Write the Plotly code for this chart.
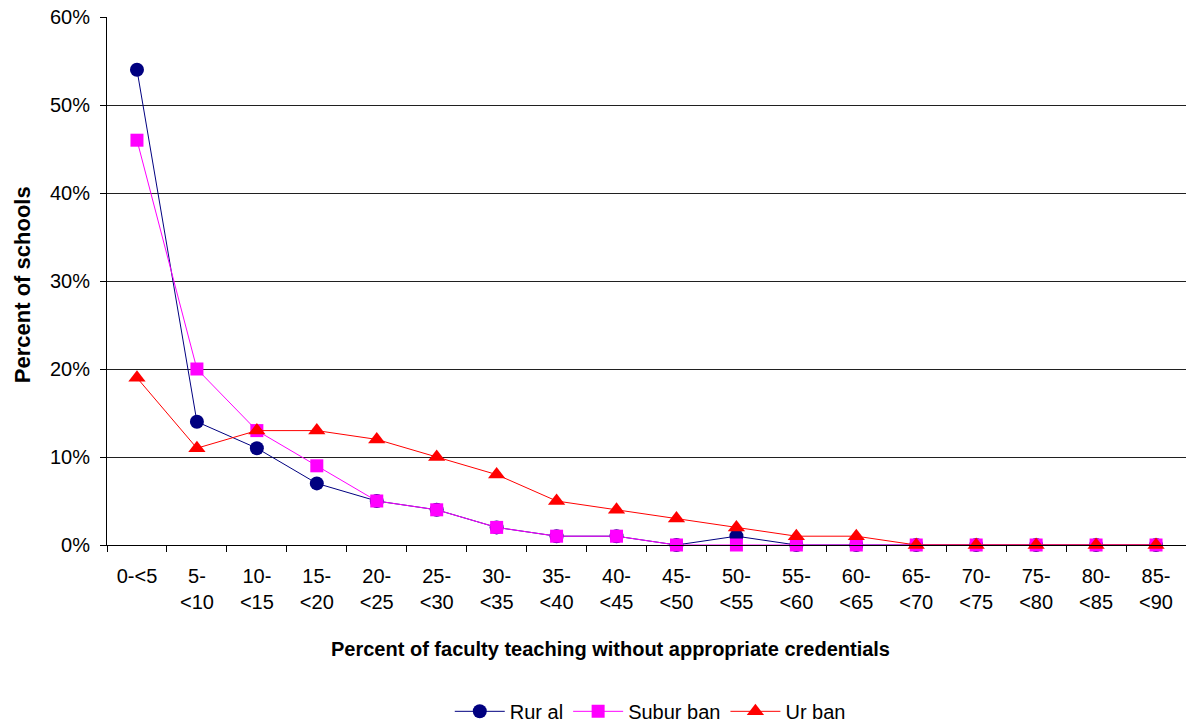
import plotly.graph_objects as go

categories = ["0-<5", "5-<br><10", "10-<br><15", "15-<br><20", "20-<br><25", "25-<br><30",
              "30-<br><35", "35-<br><40", "40-<br><45", "45-<br><50", "50-<br><55", "55-<br><60",
              "60-<br><65", "65-<br><70", "70-<br><75", "75-<br><80", "80-<br><85", "85-<br><90"]
rural = [54, 14, 11, 7, 5, 4, 2, 1, 1, 0, 1, 0, 0, 0, 0, 0, 0, 0]
suburban = [46, 20, 13, 9, 5, 4, 2, 1, 1, 0, 0, 0, 0, 0, 0, 0, 0, 0]
urban = [19, 11, 13, 13, 12, 10, 8, 5, 4, 3, 2, 1, 1, 0, 0, 0, 0, 0]
y_ticks = [0, 10, 20, 30, 40, 50, 60]
y_tick_labels = ["0%", "10%", "20%", "30%", "40%", "50%", "60%"]

FONT = "Liberation Sans, Arial, sans-serif"

fig = go.Figure()
fig.add_trace(go.Scatter(x=categories, y=rural, name="Rur al", mode="lines+markers",
                         line=dict(color="#000080", width=1),
                         marker=dict(symbol="circle", size=14, color="#000080"),
                         cliponaxis=False))
fig.add_trace(go.Scatter(x=categories, y=suburban, name="Subur ban", mode="lines+markers",
                         line=dict(color="#FF00FF", width=1),
                         marker=dict(symbol="square", size=13, color="#FF00FF"),
                         cliponaxis=False))
fig.add_trace(go.Scatter(x=categories, y=urban, name="Ur ban", mode="lines+markers",
                         line=dict(color="#FF0000", width=1),
                         marker=dict(symbol="triangle-up", size=15, color="#FF0000"),
                         cliponaxis=False))

fig.update_layout(
    width=1186, height=723,
    margin=dict(l=107, r=0, t=17, b=178, autoexpand=False),
    paper_bgcolor="white", plot_bgcolor="white",
    font=dict(family=FONT, size=20, color="black"),
    showlegend=True,
    legend=dict(orientation="h", x=0.5035, xanchor="center", y=-0.315, yanchor="middle",
                font=dict(size=20), tracegroupgap=0, itemwidth=50),
    xaxis=dict(type="category", range=[-0.5, len(categories) - 0.5],
               tickson="boundaries", ticks="outside", ticklen=6,
               tickcolor="black", showline=True, linecolor="black", linewidth=1,
               showgrid=False, tickfont=dict(size=20), automargin=False,
               ticklabelstandoff=13),
    yaxis=dict(range=[0, 60], tickmode="array", tickvals=y_ticks, ticktext=y_tick_labels,
               ticks="outside", ticklen=6,
               tickcolor="black", showline=True, linecolor="black", linewidth=1,
               showgrid=True, gridcolor="#202020", gridwidth=1, zeroline=False,
               tickfont=dict(size=20), automargin=False, ticklabelstandoff=6),
    annotations=[
        dict(text="<b>Percent of faculty teaching without appropriate credentials</b>",
             xref="paper", yref="paper", x=0.467, y=-0.197, xanchor="center", yanchor="middle",
             showarrow=False, font=dict(size=20)),
        dict(text="<b>Percent of schools</b>", textangle=-90,
             xref="paper", yref="paper", x=-0.0788, y=0.494, xanchor="center", yanchor="middle",
             showarrow=False, font=dict(size=22)),
    ],
)

fig.write_html("out.html")
